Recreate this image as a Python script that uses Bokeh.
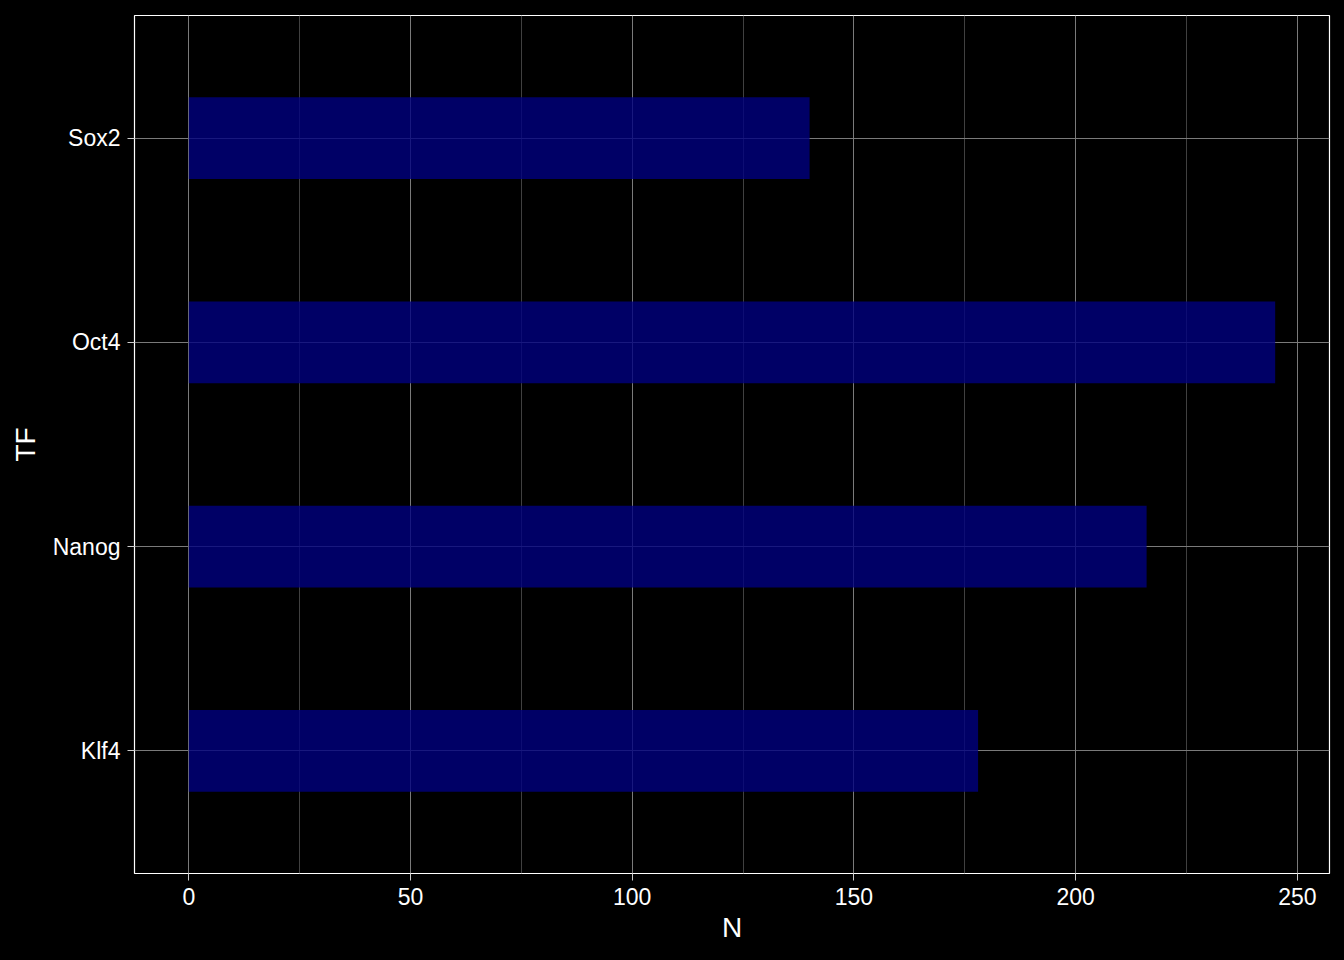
from bokeh.plotting import figure
from bokeh.models import ColumnDataSource, FixedTicker, Range1d
from bokeh.embed import file_html
from bokeh.resources import INLINE

# Data
tf = ["Klf4", "Nanog", "Oct4", "Sox2"]
n_values = [178, 216, 245, 140]
x_ticks = [0, 50, 100, 150, 200, 250]
x_minor = [25, 75, 125, 175, 225]

ypos = list(range(1, len(tf) + 1))
source = ColumnDataSource(dict(y=ypos, n=n_values, tf=tf))

xmax = max(n_values)
pad = 0.05 * xmax

p = figure(width=1344, height=960, output_backend="svg", toolbar_location=None,
           x_range=Range1d(-pad, xmax + pad), y_range=Range1d(0.4, len(tf) + 0.6),
           min_border_left=134, min_border_right=15, min_border_top=15, min_border_bottom=87)

p.background_fill_color = "black"
p.border_fill_color = "black"
p.outline_line_color = "white"
p.outline_line_width = 1.2

p.hbar(y="y", right="n", left=0, height=0.4, source=source,
       fill_color="navy", fill_alpha=0.8, line_color=None)

font = "Liberation Sans"
p.xaxis.ticker = FixedTicker(ticks=x_ticks, minor_ticks=x_minor)
p.yaxis.ticker = FixedTicker(ticks=ypos)
p.yaxis.major_label_overrides = {y: t for y, t in zip(ypos, tf)}

for ax in (p.xaxis, p.yaxis):
    ax.axis_line_color = None
    ax.major_tick_line_color = "#cccccc"
    ax.major_tick_out = 7
    ax.major_tick_in = 0
    ax.minor_tick_line_color = None
    ax.major_label_text_color = "white"
    ax.major_label_text_font = font
    ax.major_label_text_font_size = "23px"
    ax.axis_label_text_color = "white"
    ax.axis_label_text_font = font
    ax.axis_label_text_font_size = "28px"
    ax.axis_label_text_font_style = "normal"

p.xaxis.axis_label = "N"
p.yaxis.axis_label = "TF"
p.xaxis.major_label_standoff = 7
p.yaxis.major_label_standoff = 7
p.xaxis.axis_label_standoff = 4
p.yaxis.axis_label_standoff = 9

p.xgrid.grid_line_color = "#7a7a7a"
p.xgrid.grid_line_width = 1
p.xgrid.minor_grid_line_color = "#404040"
p.xgrid.minor_grid_line_width = 1
p.ygrid.grid_line_color = "#7a7a7a"
p.ygrid.grid_line_width = 1

html = file_html(p, INLINE)
html = html.replace("<head>", "<head><style>html,body{margin:0;padding:0;background:#000;overflow:hidden;}</style>", 1)
open("out.html", "w").write(html)
